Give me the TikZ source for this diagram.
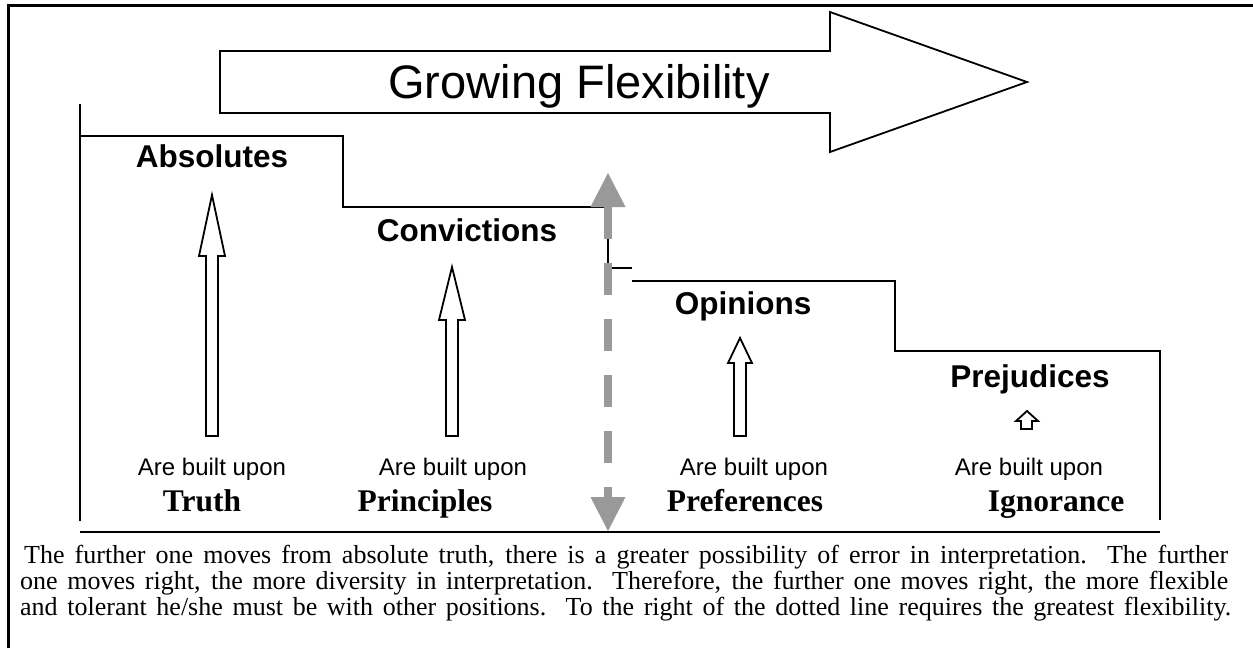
\documentclass[tikz,border=0pt]{standalone}
\usepackage{fontspec}
\setmainfont{Liberation Serif}
\setsansfont{Liberation Sans}
\usepackage{tikz}
\definecolor{dashgray}{RGB}{153,153,153}
\newcommand{\stepcol}{black}
\newcommand{\flexcol}{dashgray}
\tikzset{
  stairline/.style={draw=\stepcol, line width=2.2pt},
  blockarrow/.style={draw=black, line width=1.8pt, fill=white, line join=miter},
  levelname/.style={anchor=base, inner sep=0pt, font=\fontsize{31.5}{36}\selectfont\sffamily\bfseries},
  builtupon/.style={anchor=base, inner sep=0pt, font=\fontsize{24}{28}\selectfont\sffamily},
  basisname/.style={anchor=base, inner sep=0pt, font=\fontsize{31.5}{36}\selectfont\bfseries},
  noteline/.style={anchor=base west, inner sep=0pt, font=\fontsize{26}{26}\selectfont}
}

\begin{document}
\begin{tikzpicture}[x=1pt, y=-1pt]
  \useasboundingbox (0,0) rectangle (1253,648);

  % frame
  \draw[line width=3pt] (8,648) -- (8,5) -- (1253,5);

  % growing flexibility
  \draw[blockarrow] (220,51) -- (830,51) -- (830,12) -- (1027,82) -- (830,152)
    -- (830,113) -- (220,113) -- cycle;
  \node[anchor=base, inner sep=0pt, font=\fontsize{47}{56}\selectfont\sffamily]
    (flex) at (579,98) {Growing Flexibility};

  % steps
  \draw[stairline] (80,104) -- (80,521);
  \draw[stairline] (80,136) -- (343,136) -- (343,207) -- (608,207) -- (608,268) -- (632,268);
  \draw[stairline] (632,281) -- (895,281) -- (895,351) -- (1160,351) -- (1160,520);
  \draw[stairline] (80,532) -- (1160,532);

  % dotted divider
  \coordinate (gtop) at (608,207);
  \coordinate (gbot) at (608,497);
  \draw[draw=\flexcol, line width=8pt, dash pattern=on 32pt off 24pt] (gtop) -- (gbot);
  \fill[\flexcol] (gtop) ++(-17.5,0) -- ++(17.5,-34) -- ++(17.5,34) -- cycle;
  \fill[\flexcol] (gbot) ++(-17.5,0) -- ++(17.5,34) -- ++(17.5,-34) -- cycle;

  % level names
  \node[levelname] (abs) at (212,167) {Absolutes};
  \node[levelname] (conv) at (467,241) {Convictions};
  \node[levelname] (opin) at (743,314) {Opinions};
  \node[levelname] (prej) at (1030,387) {Prejudices};

  % up arrows
  \draw[blockarrow] (206,436) -- (206,256) -- (199,256) -- (212,195) -- (225,256)
    -- (218,256) -- (218,436) -- cycle;
  \draw[blockarrow] (446,436) -- (446,320) -- (439,320) -- (452,267) -- (465,320)
    -- (458,320) -- (458,436) -- cycle;
  \draw[blockarrow] (734,436) -- (734,363) -- (728,363) -- (740,338) -- (752,363)
    -- (746,363) -- (746,436) -- cycle;
  \draw[blockarrow] (1021,429) -- (1021,421) -- (1016,421) -- (1027,411) -- (1038,421)
    -- (1032,421) -- (1032,429) -- cycle;

  % foundations
  \node[builtupon] (bu1) at (212,475) {Are built upon};
  \node[builtupon] (bu2) at (453,475) {Are built upon};
  \node[builtupon] (bu3) at (754,475) {Are built upon};
  \node[builtupon] (bu4) at (1029,475) {Are built upon};
  \node[basisname] (truth) at (202,511) {Truth};
  \node[basisname] (princ) at (425,511) {Principles};
  \node[basisname] (pref) at (745,511) {Preferences};
  \node[basisname] (ignor) at (1056,511) {Ignorance};

  % note
  \node[noteline] (note1) at (24,563) {\makebox[1204pt][s]{The further one moves from absolute truth, there is a greater possibility of error in interpretation.\ \ The further}};
  \node[noteline] (note2) at (20,589) {\makebox[1208pt][s]{one moves right, the more diversity in interpretation.\ \ Therefore, the further one moves right, the more flexible}};
  \node[noteline] (note3) at (20,615) {\makebox[1211pt][s]{and tolerant he/she must be with other positions.\ \ To the right of the dotted line requires the greatest flexibility.}};
\end{tikzpicture}
\end{document}
